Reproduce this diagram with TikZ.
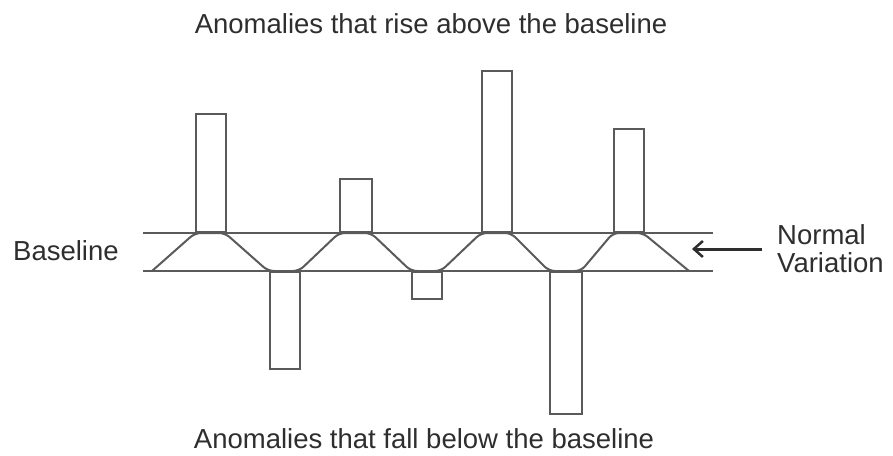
\documentclass[tikz,border=0pt]{standalone}
\usepackage{fontspec}
\setmainfont{Liberation Sans}
\usepackage{tikz}
\usetikzlibrary{arrows.meta,positioning,calc}

\definecolor{lngray}{HTML}{5A5A5A}
\definecolor{txtgray}{HTML}{2E2E2E}

\begin{document}
\begin{tikzpicture}[x=1pt, y=-1pt]
\tikzset{bar/.style={draw=lngray, line width=2pt, rectangle, minimum width=30pt, inner sep=0pt},
  lbl/.style={text=txtgray, font=\fontsize{27.5pt}{28pt}\selectfont, inner sep=0pt},
  band/.style={draw=lngray, line width=2pt}}

\useasboundingbox (0,0) rectangle (893,455);

% Baseline band
\coordinate (bandtl) at (143,233);
\coordinate (bandtr) at (713,233);
\coordinate (bandbl) at (143,271);
\coordinate (bandbr) at (713,271);
\draw[band] (bandtl) -- (bandtr);
\draw[band] (bandbl) -- (bandbr);

% Normal variation wave
\draw[band, rounded corners=6pt] (152,271) -- (195,233) -- (225,233) -- (268,271) -- (299,271)
 -- (339,233) -- (371,233) -- (411,271) -- (441,271) -- (481,233) -- (511,233)
 -- (549,271) -- (581,271) -- (613,233) -- (643,233) -- (689,271);

% Anomalies above
\node[bar, minimum height=118pt, anchor=south west] (rise1) at (195,233) {};
\node[bar, minimum height=53pt, minimum width=32pt, anchor=south west] (rise2) at (339,233) {};
\node[bar, minimum height=161pt, anchor=south west] (rise3) at (481,233) {};
\node[bar, minimum height=103pt, anchor=south west] (rise4) at (613,233) {};

% Anomalies below
\node[bar, minimum height=97pt, anchor=north west] (fall1) at (269,271) {};
\node[bar, minimum height=27pt, anchor=north west] (fall2) at (411,271) {};
\node[bar, minimum height=142pt, minimum width=32pt, anchor=north west] (fall3) at (549,271) {};

% Labels
\node[lbl, anchor=base] (toptxt) at (431,33) {Anomalies that rise above the baseline};
\node[lbl, anchor=base] (bottxt) at (424,448) {Anomalies that fall below the baseline};
\node[lbl, anchor=base west] (baseln) at (13,260) {Baseline};
\node[lbl, anchor=west, align=left] (normvar) at (777,249) {Normal\\Variation};

% Arrow
\coordinate (nvtip) at (692,249);
\draw[-{Straight Barb[length=9pt, width=16pt, line width=2.5pt]}, line width=3pt, color=txtgray, shorten <=15pt] (normvar.west) -- (nvtip);

\end{tikzpicture}
\end{document}
